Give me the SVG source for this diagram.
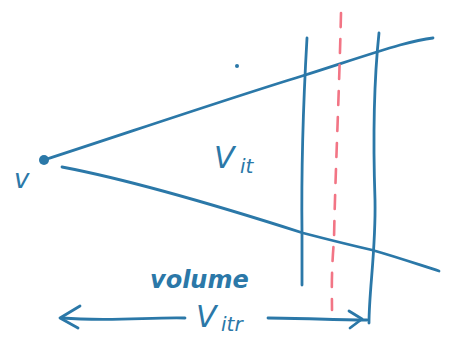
<svg xmlns="http://www.w3.org/2000/svg" width="449" height="350" viewBox="0 0 449 350">
<style>
.ink{fill:none;stroke:#2b78a8;stroke-width:2.8;stroke-linecap:round;stroke-linejoin:round}
.red{fill:none;stroke:#f27585;stroke-width:2.6;stroke-linecap:round;stroke-dasharray:14 12}
.t{fill:#2b78a8;font-family:"DejaVu Sans",sans-serif;font-style:oblique}
</style>
<rect width="449" height="350" fill="#fff"/>
<g id="connectors">
<path class="ink" d="M44,160 C130,132 230,98 302,76 C340,64 372,53 400,45 C415,41 425,39 433,38"/>
<path class="ink" d="M62,167 C120,178 200,200 303,233 C330,240 350,245 372,250 C400,258 420,265 439,271"/>
<path class="ink" d="M307,38 C304,90 301,150 302,233 C302,260 302,275 302,285"/>
<path class="ink" d="M379,33 C374,80 373,140 375,200 C376,250 369,290 369,323"/>
<path class="red" d="M341,13 C339,100 335,180 334,240 C331,275 332,295 332,310"/>
<path class="ink" d="M185,318 C150,317 110,322 62,318"/>
<path class="ink" d="M80,306 L60,318 L78,328"/>
<path class="ink" d="M268,318 C300,318 335,320 367,320"/>
<path class="ink" d="M349,311 L362,319 L350,328"/>
</g>
<g id="source">
<circle cx="44" cy="160" r="5" fill="#2b78a8"/>
<text class="t" x="14" y="188" font-size="26">v</text>
</g>
<g id="label-vit">
<text class="t" x="214" y="168" font-size="30">V</text>
<text class="t" x="240" y="173" font-size="20">it</text>
</g>
<g id="label-volume">
<text class="t" x="150" y="288" font-size="24" font-weight="bold">volume</text>
<text class="t" x="196" y="327" font-size="30">V</text>
<text class="t" x="221" y="331" font-size="20">itr</text>
</g>
<circle cx="237" cy="66" r="2" fill="#2b78a8"/>
</svg>
